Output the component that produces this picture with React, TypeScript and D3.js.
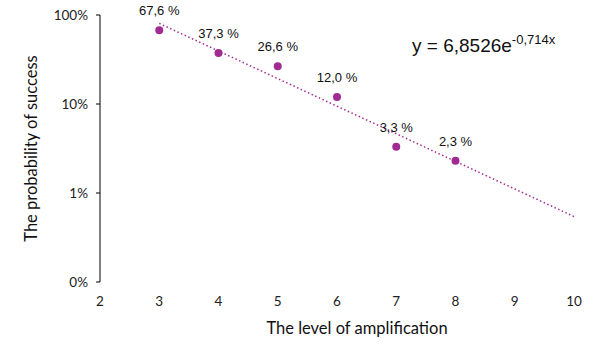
import React from "react";
import * as d3 from "d3";

const levels = [3, 4, 5, 6, 7, 8];
const successPct = [67.6, 37.3, 26.6, 12.0, 3.3, 2.3];
const labels = ["67,6 %", "37,3 %", "26,6 %", "12,0 %", "3,3 %", "2,3 %"];
const xTicks = [2, 3, 4, 5, 6, 7, 8, 9, 10];
const yTicks = [0.001, 0.01, 0.1, 1];
const yTickLabels = ["0%", "1%", "10%", "100%"];
const trendA = 6.8526;
const trendB = -0.714;

const purple = "#A02B93";

export default function App() {
  const width = 598;
  const height = 354;

  const x = d3.scaleLinear().domain([2, 10]).range([100, 574]);
  const y = d3.scaleLog().domain([0.001, 1]).range([282, 15]);

  const trendXs = d3.range(3, 10.001, 0.1);
  const trendLine = d3
    .line<number>()
    .x((d) => x(d))
    .y((d) => y(trendA * Math.exp(trendB * d)));

  const tickFont = "Lato, 'Open Sans', sans-serif";
  const labelFont = "'Liberation Sans', Arial, sans-serif";

  return (
    <svg
      width={width}
      height={height}
      style={{ position: "absolute", left: 0, top: 0, background: "white" }}
    >
      {/* y axis */}
      <line x1={100} x2={100} y1={y(1)} y2={y(0.001)} stroke="#000" strokeWidth={1} />
      {yTicks.map((t, i) => (
        <g key={t}>
          <line x1={96} x2={100} y1={y(t)} y2={y(t)} stroke="#000" />
          <text
            x={88}
            y={y(t)}
            dy="0.35em"
            textAnchor="end"
            fontFamily={tickFont}
            fontSize={13.5}
            fill="#222"
          >
            {yTickLabels[i]}
          </text>
        </g>
      ))}
      {xTicks.map((t) => (
        <text
          key={t}
          x={x(t)}
          y={306}
          textAnchor="middle"
          fontFamily={tickFont}
          fontSize={13.5}
          fill="#222"
        >
          {t}
        </text>
      ))}

      {/* trend line */}
      <path
        d={trendLine(trendXs) || ""}
        fill="none"
        stroke={purple}
        strokeWidth={1.5}
        strokeDasharray="1.5 2.5"
      />

      {/* points */}
      {levels.map((lv, i) => (
        <g key={lv}>
          <circle cx={x(lv)} cy={y(successPct[i] / 100)} r={4} fill={purple} />
          <text
            x={x(lv)}
            y={y(successPct[i] / 100) - 15}
            textAnchor="middle"
            fontFamily={labelFont}
            fontSize={13}
            fill="#111"
          >
            {labels[i]}
          </text>
        </g>
      ))}

      {/* equation */}
      <text x={412} y={52} fontFamily={labelFont} fontSize={19} fill="#111">
        y = 6,8526e
        <tspan fontSize={13} dy={-8}>
          -0,714x
        </tspan>
      </text>

      {/* axis titles */}
      <text
        x={357}
        y={334}
        textAnchor="middle"
        fontFamily={tickFont}
        fontSize={16.5}
        fill="#111"
      >
        The level of amplification
      </text>
      <text
        transform={`translate(37,${(y(1) + y(0.001)) / 2}) rotate(-90)`}
        textAnchor="middle"
        fontFamily={tickFont}
        fontSize={16.5}
        fill="#111"
      >
        The probability of success
      </text>
    </svg>
  );
}
